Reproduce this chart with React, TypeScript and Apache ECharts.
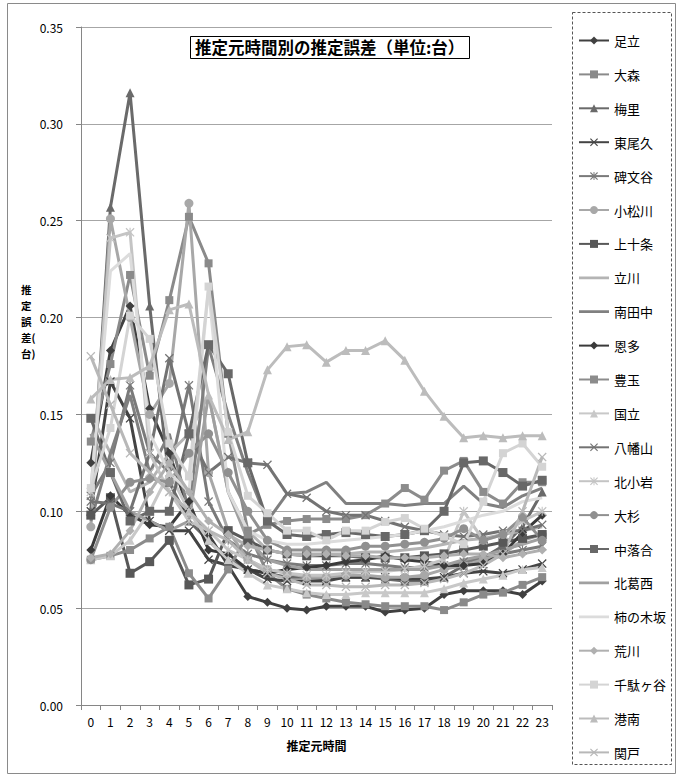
import React, { useEffect, useRef } from "react";
import * as echarts from "echarts";

const hours = ["0","1","2","3","4","5","6","7","8","9","10","11","12","13","14","15","16","17","18","19","20","21","22","23"];
const yTicks = [0, 0.05, 0.1, 0.15, 0.2, 0.25, 0.3, 0.35];

const names = ["足立","大森","梅里","東尾久","碑文谷","小松川","上十条","立川","南田中","恩多","豊玉","国立","八幡山","北小岩","大杉","中落合","北葛西","柿の木坂","荒川","千駄ヶ谷","港南","関戸"];

const adachi = [0.125,0.183,0.206,0.153,0.130,0.100,0.088,0.072,0.056,0.053,0.050,0.049,0.051,0.051,0.051,0.048,0.049,0.050,0.057,0.059,0.059,0.059,0.057,0.064];
const omori = [0.136,0.176,0.222,0.170,0.209,0.252,0.228,0.140,0.090,0.068,0.060,0.057,0.055,0.053,0.052,0.051,0.051,0.051,0.049,0.053,0.057,0.058,0.062,0.066];
const umezato = [0.100,0.257,0.316,0.206,0.115,0.095,0.085,0.075,0.070,0.068,0.066,0.066,0.065,0.066,0.066,0.065,0.064,0.064,0.066,0.072,0.076,0.082,0.092,0.110];
const higashiogu = [0.100,0.167,0.148,0.095,0.090,0.090,0.075,0.072,0.070,0.065,0.064,0.064,0.064,0.066,0.066,0.066,0.065,0.065,0.066,0.068,0.069,0.068,0.070,0.073];
const himonya = [0.108,0.125,0.165,0.130,0.120,0.165,0.105,0.085,0.078,0.075,0.073,0.072,0.072,0.073,0.073,0.072,0.071,0.071,0.072,0.074,0.076,0.078,0.080,0.082];
const komatsugawa = [0.092,0.251,0.200,0.150,0.166,0.259,0.120,0.090,0.075,0.070,0.068,0.066,0.066,0.067,0.067,0.066,0.066,0.067,0.070,0.072,0.075,0.078,0.085,0.088];
const kamijujo = [0.098,0.107,0.068,0.074,0.085,0.062,0.065,0.090,0.085,0.080,0.078,0.077,0.077,0.077,0.076,0.076,0.076,0.077,0.078,0.080,0.082,0.084,0.086,0.088];
const tachikawa = [0.150,0.130,0.110,0.115,0.130,0.140,0.160,0.110,0.090,0.080,0.078,0.077,0.078,0.078,0.079,0.079,0.080,0.081,0.083,0.085,0.086,0.088,0.090,0.092];
const minamitanaka = [0.095,0.130,0.160,0.120,0.140,0.100,0.185,0.150,0.120,0.095,0.109,0.110,0.115,0.104,0.104,0.104,0.103,0.104,0.104,0.113,0.104,0.102,0.108,0.112];
const onta = [0.080,0.108,0.098,0.093,0.092,0.105,0.080,0.078,0.070,0.068,0.070,0.071,0.072,0.074,0.075,0.077,0.075,0.074,0.072,0.072,0.073,0.078,0.089,0.098];
const toyotama = [0.075,0.077,0.080,0.086,0.092,0.068,0.055,0.070,0.088,0.093,0.095,0.096,0.096,0.096,0.098,0.104,0.112,0.106,0.121,0.126,0.110,0.104,0.115,0.115];
const kunitachi = [0.075,0.077,0.085,0.100,0.120,0.100,0.085,0.075,0.068,0.062,0.060,0.058,0.057,0.057,0.058,0.058,0.058,0.058,0.060,0.063,0.065,0.067,0.070,0.071];
const hachimanyama = [0.105,0.104,0.100,0.130,0.179,0.140,0.120,0.128,0.125,0.124,0.109,0.107,0.100,0.098,0.098,0.095,0.092,0.090,0.088,0.087,0.088,0.090,0.090,0.093];
const kitakoiwa = [0.110,0.241,0.244,0.130,0.110,0.095,0.090,0.080,0.075,0.070,0.068,0.067,0.067,0.068,0.069,0.069,0.070,0.072,0.075,0.100,0.085,0.088,0.095,0.100];
const osugi = [0.075,0.102,0.115,0.117,0.115,0.130,0.140,0.120,0.100,0.085,0.080,0.080,0.080,0.080,0.082,0.082,0.083,0.084,0.086,0.091,0.085,0.088,0.097,0.085];
const nakaochiai = [0.148,0.120,0.095,0.100,0.100,0.140,0.186,0.171,0.125,0.095,0.088,0.087,0.088,0.089,0.088,0.087,0.088,0.090,0.100,0.125,0.126,0.120,0.113,0.116];
const kitakasai = [0.140,0.120,0.100,0.095,0.090,0.095,0.160,0.110,0.085,0.075,0.072,0.070,0.070,0.070,0.070,0.070,0.070,0.070,0.072,0.075,0.077,0.080,0.083,0.086];
const kakinokizaka = [0.110,0.224,0.233,0.140,0.120,0.110,0.215,0.110,0.090,0.085,0.083,0.083,0.084,0.085,0.086,0.087,0.088,0.090,0.092,0.095,0.098,0.100,0.105,0.107];
const arakawa = [0.076,0.078,0.090,0.110,0.125,0.110,0.095,0.088,0.082,0.080,0.078,0.078,0.078,0.077,0.077,0.076,0.076,0.076,0.077,0.078,0.078,0.076,0.078,0.080];
const sendagaya = [0.112,0.143,0.201,0.189,0.135,0.118,0.216,0.141,0.108,0.099,0.090,0.090,0.085,0.090,0.090,0.0945,0.0965,0.091,0.087,0.083,0.105,0.130,0.135,0.123];
const konan = [0.158,0.168,0.169,0.175,0.204,0.207,0.160,0.137,0.141,0.173,0.185,0.186,0.177,0.183,0.183,0.188,0.178,0.162,0.149,0.138,0.139,0.138,0.139,0.139];
const sekido = [0.180,0.155,0.130,0.120,0.110,0.100,0.090,0.085,0.075,0.068,0.065,0.062,0.062,0.061,0.061,0.062,0.062,0.063,0.065,0.068,0.072,0.078,0.100,0.128];

const seriesData = [adachi, omori, umezato, higashiogu, himonya, komatsugawa, kamijujo, tachikawa, minamitanaka, onta, toyotama, kunitachi, hachimanyama, kitakoiwa, osugi, nakaochiai, kitakasai, kakinokizaka, arakawa, sendagaya, konan, sekido];

const colors = ["#404040","#8a8a8a","#6a6a6a","#444444","#7a7a7a","#a8a8a8","#585858","#b4b4b4","#808080","#3a3a3a","#8c8c8c","#c8c8c8","#737373","#c4c4c4","#909090","#686868","#a0a0a0","#dcdcdc","#b0b0b0","#d4d4d4","#bcbcbc","#b8b8b8"];

const X_PATH = "path://M0,1 L1,0 L5,4 L9,0 L10,1 L6,5 L10,9 L9,10 L5,6 L1,10 L0,9 L4,5 Z";
const STAR_PATH = "path://M0,1 L1,0 L5,4 L9,0 L10,1 L6,5 L10,9 L9,10 L5,6 L1,10 L0,9 L4,5 Z M4.4,0 L5.6,0 L5.6,10 L4.4,10 Z";
const PLUS_PATH = "path://M4.4,0 L5.6,0 L5.6,10 L4.4,10 Z";
const LINE_ICON = "path://M0,0 L0.01,0 L0,0.01 Z M0,10 L0.01,10 L0,9.99 Z M0,3.6 L30,3.6 L30,6.4 L0,6.4 Z";
const symbols = ["diamond","rect","triangle",X_PATH,STAR_PATH,"circle",PLUS_PATH,"none","none","diamond","rect","triangle",X_PATH,STAR_PATH,"circle",PLUS_PATH,"none","none","diamond","rect","triangle",X_PATH];

const yNameChars = ["推", "定", "誤", "差(", "台)"];

const FONT = "'Noto Sans CJK JP', 'Noto Sans', sans-serif";

export default function App() {
  const ref = useRef<HTMLDivElement>(null);
  useEffect(() => {
    if (!ref.current) return;
    const chart = echarts.init(ref.current, null, { renderer: "svg" });
    const series = names.map((n, i) => {
      const sym = symbols[i];
      return {
        name: n,
        type: "line",
        data: seriesData[i],
        symbol: sym,
        symbolSize: sym === "rect" ? 8 : 9,
        showSymbol: sym !== "none",
        lineStyle: { color: colors[i], width: 3 },
        itemStyle: { color: colors[i] },
        emphasis: { disabled: true },
      };
    });
    const legendData = names.map((n, i) =>
      symbols[i] === "none" ? { name: n, icon: LINE_ICON, itemStyle: { color: colors[i] } } : { name: n }
    );
    const yNameGraphics = yNameChars.map((c, k) => ({
      type: "text",
      x: 21,
      y: 284 + k * 16,
      style: {
        text: c,
        fill: "#000",
        font: "bold 10.5px " + FONT,
        align: "left",
        verticalAlign: "top",
      },
      silent: true,
    }));
    chart.setOption({
      animation: false,
      textStyle: { fontFamily: FONT },
      title: {
        text: "推定元時間別の推定誤差（単位:台）",
        left: 190,
        top: 36,
        padding: [3, 5, 3, 5],
        borderColor: "#000",
        borderWidth: 1,
        backgroundColor: "#fff",
        textStyle: { fontSize: 16.5, fontWeight: "bold", color: "#000", fontFamily: FONT },
      },
      legend: {
        orient: "vertical",
        left: 572,
        top: 12,
        padding: [22, 7, 11, 6],
        itemGap: 20.9,
        itemWidth: 30,
        itemHeight: 10,
        data: legendData,
        textStyle: { fontSize: 13, color: "#000", fontFamily: FONT },
        selectedMode: false,
      },
      grid: { left: 81, top: 27, width: 471, height: 678, containLabel: false },
      xAxis: {
        type: "category",
        data: hours,
        boundaryGap: true,
        axisLine: { lineStyle: { color: "#868686" } },
        axisTick: { show: true, length: 5, lineStyle: { color: "#868686" } },
        axisLabel: { color: "#000", fontSize: 12, margin: 10, interval: 0, fontFamily: FONT },
        name: "推定元時間",
        nameLocation: "middle",
        nameGap: 34,
        nameTextStyle: { fontSize: 12, fontWeight: "bold", color: "#000", fontFamily: FONT },
      },
      yAxis: {
        type: "value",
        min: yTicks[0],
        max: yTicks[yTicks.length - 1],
        interval: 0.05,
        axisLine: { show: true, lineStyle: { color: "#868686" } },
        axisTick: { show: true, length: 5, lineStyle: { color: "#868686" } },
        axisLabel: { color: "#000", fontSize: 12, margin: 18, formatter: (v: number) => v.toFixed(2), fontFamily: FONT },
        splitLine: { show: true, lineStyle: { color: "#a6a6a6", width: 1 } },
      },
      graphic: [
        {
          type: "rect",
          shape: { x: 7.5, y: 3.5, width: 668, height: 770 },
          style: { fill: "none", stroke: "#8a8a8a", lineWidth: 1 },
          silent: true,
          z: -10,
        },
        {
          type: "rect",
          shape: { x: 572.5, y: 12.5, width: 99, height: 752 },
          style: { fill: "none", stroke: "#555", lineWidth: 1, lineDash: [3, 2] },
          silent: true,
        },
        ...yNameGraphics,
      ],
      series,
    });
    return () => chart.dispose();
  }, []);
  return <div ref={ref} style={{ position: "fixed", left: 0, top: 0, width: 678, height: 778, background: "#fff" }} />;
}
